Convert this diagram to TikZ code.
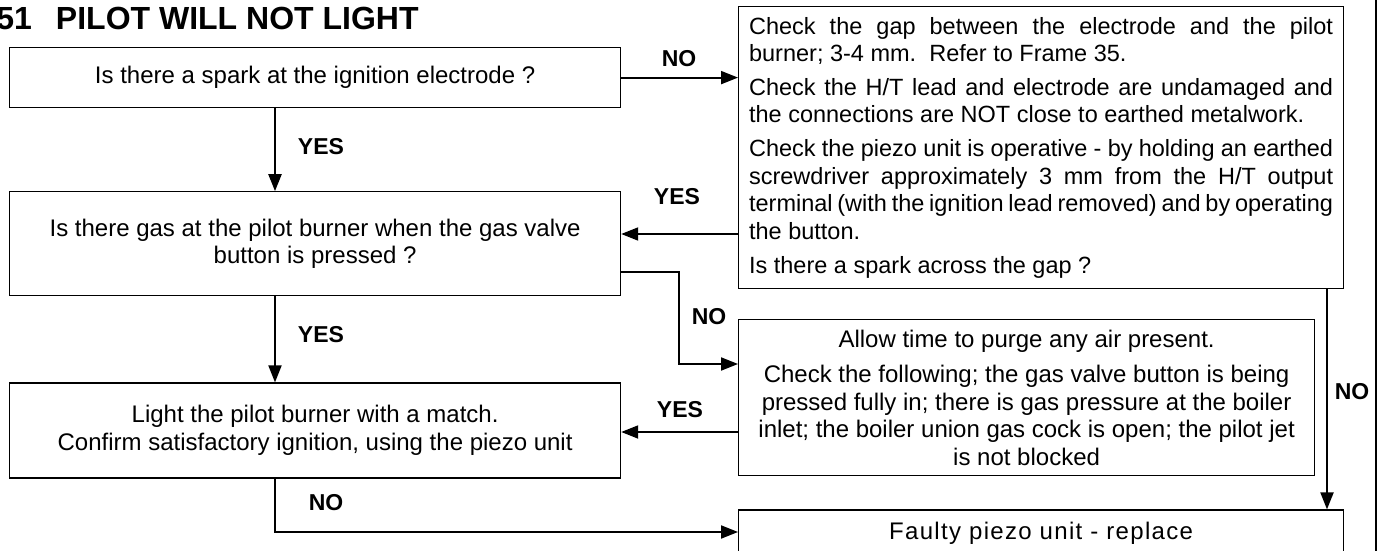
\documentclass[tikz,border=0pt]{standalone}
\usepackage{fontspec}
\setmainfont{Liberation Sans}
\usepackage{tikz}
\usetikzlibrary{arrows.meta,positioning}
\newcommand{\boxfont}{\fontsize{12}{13.75}\selectfont}
\newcommand{\notefont}{\fontsize{11.75}{13.75}\selectfont}
\newcommand{\tightspace}{\fontdimen4\font=2.2pt\relax
  \tolerance=9999\relax\hyphenpenalty=10000\relax}
\newcommand{\parbreak}{\par\vspace{3.2pt}}
\setlength{\parindent}{0pt}
\tikzset{
  >={Triangle[length=8.5pt,width=6.5pt]},
  qbox/.style={
    draw, rectangle, align=center, inner sep=0pt, font=\boxfont,
    line width=0.6pt, minimum width=305.5pt
  },
  notebox/.style={
    draw, rectangle, align=justify, inner xsep=5.25pt, inner ysep=0pt,
    font=\notefont, line width=0.6pt, text width=292pt
  },
  lbl/.style={
    font=\fontsize{11.5}{13.6}\selectfont\bfseries, inner sep=0pt
  },
  flow/.style={
    ->, line width=1pt
  },
}

\begin{document}
\begin{tikzpicture}[x=0.5pt, y=-0.5pt]
  \useasboundingbox (0,0) rectangle (1382,551);

  \node[anchor=base west, inner sep=0pt, font=\fontsize{16}{19}\selectfont\bfseries]
    (title) at (-4,30) {51\hspace{12pt}PILOT WILL NOT LIGHT};

  \node[qbox, anchor=north west, minimum height=30pt] (spark) at (9,47)
    {Is there a spark at the ignition electrode ?};
  \node[qbox, below=41.5pt of spark, minimum height=52pt] (gas)
    {Is there gas at the pilot burner when the gas valve\\button is pressed ?};
  \node[qbox, below=43pt of gas, minimum height=47.5pt] (light)
    {Light the pilot burner with a match.\\
     Confirm satisfactory ignition, using the piezo unit};

  \node[notebox, anchor=north west, minimum height=141pt] (check) at (738,6)
    {\tightspace
     Check the gap between the electrode and the pilot\linebreak
     burner; 3-4 mm.\ \ Refer to Frame 35.\parbreak
     Check the H/T lead and electrode are undamaged and\linebreak
     the connections are NOT close to earthed metalwork.\parbreak
     Check the piezo unit is operative - by holding an earthed\linebreak
     screwdriver approximately 3 mm from the H/T output\linebreak
     terminal (with the ignition lead removed) and by operating\linebreak
     the button.\parbreak
     Is there a spark across the gap ?};
  \node[qbox, below=15pt of check.south west, anchor=north west,
    minimum width=288pt, minimum height=78pt] (purge)
    {Allow time to purge any air present.\\[4pt]
     Check the following; the gas valve button is being\\
     pressed fully in; there is gas pressure at the boiler\\
     inlet; the boiler union gas cock is open; the pilot jet\\
     is not blocked};
  \node[qbox, below=16.5pt of purge.south west, anchor=north west,
    minimum width=302.5pt, text height=14.5pt, text depth=30pt] (faulty)
    {\addfontfeature{LetterSpace=5.5}Faulty piezo unit - replace};

  \coordinate (trunk) at (275,0);
  \coordinate (bend) at (679,272);
  \coordinate (drop) at (1327,0);

  \draw[flow] (spark.east) -- (spark.east -| check.west);
  \draw[flow] (spark.south -| trunk) -- (gas.north -| trunk);
  \draw[flow] (check.west |- 0,234) -- (gas.east |- 0,234);
  \draw[flow] (gas.south -| trunk) -- (light.north -| trunk);
  \draw[flow] (gas.east |- bend) -- (bend) |- (purge.west |- 0,364);
  \draw[flow] (purge.west |- 0,432) -- (light.east |- 0,432);
  \draw[flow] (light.south -| trunk) |- (faulty.west |- 0,532);
  \draw[flow] (check.south -| drop) -- (faulty.north -| drop);

  \node[lbl] (no1) at (679,59) {NO};
  \node[lbl] (yes1) at (321,147) {YES};
  \node[lbl] (yes2) at (677,197) {YES};
  \node[lbl] (no2) at (709,317) {NO};
  \node[lbl] (yes3) at (321,335) {YES};
  \node[lbl] (yes4) at (680,410) {YES};
  \node[lbl] (no3) at (326,503) {NO};
  \node[lbl] (no4) at (1352,392) {NO};

  \draw[line width=1pt] (1376,0) -- (1376,551);
\end{tikzpicture}
\end{document}
